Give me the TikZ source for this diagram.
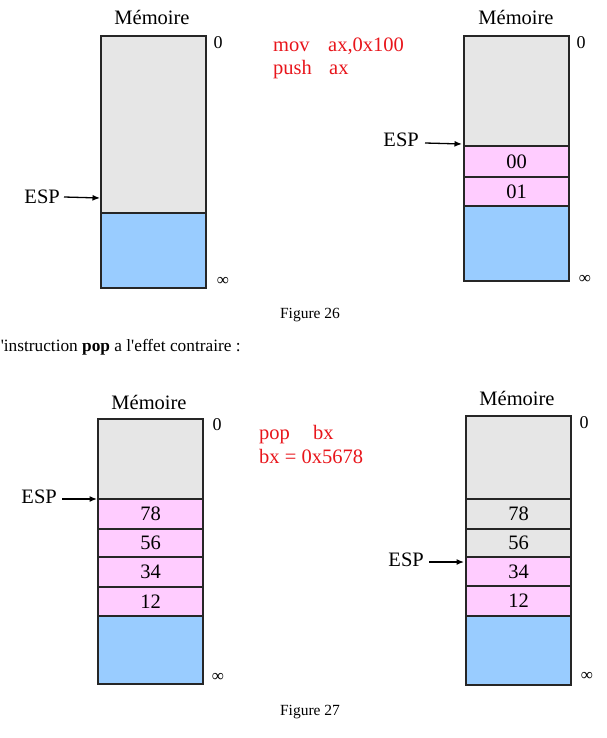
\documentclass[tikz,border=0pt]{standalone}
\usepackage{fontspec}
\setmainfont{Liberation Serif}
\newfontfamily\plainserif{Liberation Serif}
\usetikzlibrary{arrows.meta}
\definecolor{memgray}{HTML}{E6E6E6}
\definecolor{memblue}{HTML}{99CCFF}
\definecolor{mempink}{HTML}{FFCCFF}
\definecolor{instred}{HTML}{E8151B}
\tikzset{
  cell/.style={draw=black!85, line width=1.5pt, inner sep=0pt, outer sep=0pt, anchor=north west,
    minimum width=105pt, font=\fontsize{20.5}{20.5}\selectfont},
  graycell/.style={cell, fill=memgray},
  bluecell/.style={cell, fill=memblue},
  pinkcell/.style={cell, fill=mempink},
  title/.style={font=\fontsize{20.5}{20.5}\selectfont, inner sep=0pt},
  addr/.style={font=\fontsize{18}{18}\selectfont, inner sep=0pt},
  inf/.style={font=\fontsize{17}{17}\selectfont, inner sep=0pt},
  esplabel/.style={font=\fontsize{20.5}{20.5}\selectfont, inner sep=0pt, anchor=east},
  ptr/.style={line width=1.3pt, -{Latex[length=7.5pt,width=6pt]}},
  instr/.style={font=\fontsize{20.5}{20.5}\selectfont, text=instred, inner sep=0pt, anchor=base west},
  caption/.style={font=\fontsize{15.5}{15.5}\selectfont, inner sep=0pt, anchor=base},
  body/.style={font=\plainserif\fontsize{17.3}{17.3}\selectfont, inner sep=0pt, anchor=base west}
}
\begin{document}
\begin{tikzpicture}[x=1pt,y=-1pt]
\useasboundingbox (0,0) rectangle (606,738);

% ---------------- Figure 26, left ----------------
\node[title] (m1) at (152,17) {Mémoire};
\node[graycell, minimum height=177pt] (a1) at (101,36) {};
\node[bluecell, minimum height=75pt] (a2) at (101,213) {};
\node[addr] (z1) at (218,43) {0};
\node[inf] (i1) at (223,281) {∞};
\node[esplabel] (e1) at (60,197) {ESP};
\coordinate (p1) at (100,198);
\draw[ptr] ([xshift=4pt]e1.east) -- (p1);

% instructions
\node[instr] (t1) at (273,52) {mov};
\node[instr] (t2) at (328,52) {ax,0x100};
\node[instr] (t3) at (273,75) {push};
\node[instr] (t4) at (329,75) {ax};

% ---------------- Figure 26, right ----------------
\node[title] (m2) at (516,17) {Mémoire};
\node[graycell, minimum height=110pt] (b1) at (464,36) {};
\node[pinkcell, minimum height=31pt] (b2) at (464,146) {00};
\node[pinkcell, minimum height=29pt] (b3) at (464,177) {01};
\node[bluecell, minimum height=75pt] (b4) at (464,206) {};
\node[addr] (z2) at (581,43) {0};
\node[inf] (i2) at (585,279) {∞};
\node[esplabel] (e2) at (419,140) {ESP};
\coordinate (p2) at (462,144);
\draw[ptr] ([xshift=6pt,yshift=-3pt]e2.east) -- (p2);

\node[caption] (f1) at (310,318) {Figure 26};
\node[body] (txt) at (-10,351) {L'instruction \textbf{pop} a l'effet contraire :};

% ---------------- Figure 27, left ----------------
\node[title] (m3) at (149,402) {Mémoire};
\node[graycell, minimum height=80pt] (c1) at (98,419) {};
\node[pinkcell, minimum height=30pt] (c2) at (98,499) {78};
\node[pinkcell, minimum height=28pt] (c3) at (98,529) {56};
\node[pinkcell, minimum height=30pt] (c4) at (98,557) {34};
\node[pinkcell, minimum height=29pt] (c5) at (98,587) {12};
\node[bluecell, minimum height=68pt] (c6) at (98,616) {};
\node[addr] (z3) at (217,425) {0};
\node[inf] (i3) at (218,677) {∞};
\node[esplabel] (e3) at (57,497) {ESP};
\coordinate (p3) at (97,499);
\draw[ptr] ([xshift=5pt,yshift=-2pt]e3.east) -- (p3);

% instructions
\node[instr] (u1) at (259,439) {pop};
\node[instr] (u2) at (313,439) {bx};
\node[instr] (u3) at (259,463) {bx = 0x5678};

% ---------------- Figure 27, right ----------------
\node[title] (m4) at (517,398) {Mémoire};
\node[graycell, minimum height=83pt] (d1) at (466,416) {};
\node[graycell, minimum height=30pt] (d2) at (466,499) {78};
\node[graycell, minimum height=28pt] (d3) at (466,529) {56};
\node[pinkcell, minimum height=29pt] (d4) at (466,557) {34};
\node[pinkcell, minimum height=30pt] (d5) at (466,586) {12};
\node[bluecell, minimum height=69pt] (d6) at (466,616) {};
\node[addr] (z4) at (584,423) {0};
\node[inf] (i4) at (587,676) {∞};
\node[esplabel] (e4) at (424,560) {ESP};
\coordinate (p4) at (464,562);
\draw[ptr] ([xshift=5pt,yshift=-2pt]e4.east) -- (p4);

\node[caption] (f2) at (310,715) {Figure 27};
\end{tikzpicture}
\end{document}
